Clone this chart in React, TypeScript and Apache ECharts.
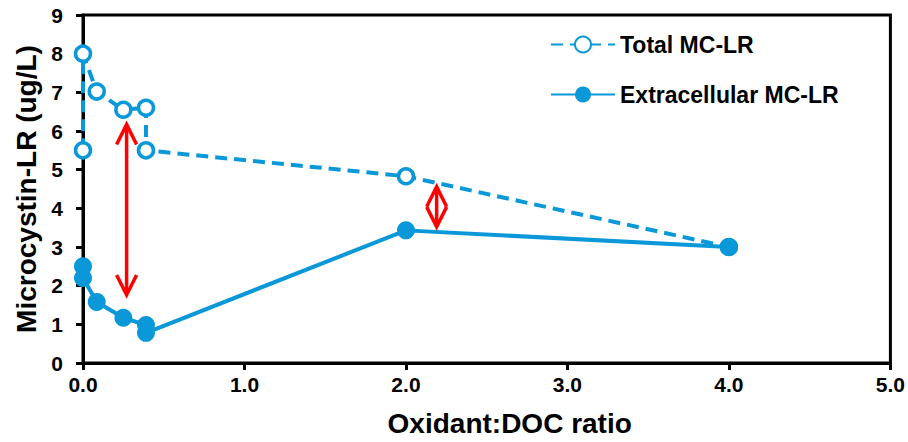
import React, { useEffect, useRef } from "react";
import * as echarts from "echarts";

const totalX = [0, 0, 0.085, 0.25, 0.39, 0.39, 2.0, 4.0];
const totalY = [5.5, 8.0, 7.02, 6.55, 6.6, 5.5, 4.83, 3.0];
const extraX = [0, 0, 0.085, 0.25, 0.39, 0.39, 2.0, 4.0];
const extraY = [2.5, 2.2, 1.58, 1.17, 0.98, 0.78, 3.43, 3.0];
// arrows: [x, yTop, yBottom]
const arrowX = [0.27, 2.19];
const arrowTop = [6.17, 4.56];
const arrowBottom = [1.76, 3.52];

const FONT = "'Liberation Sans', Arial, sans-serif";
const BLUE = "#0A98D9";

export default function App() {
  const ref = useRef<HTMLDivElement>(null);
  useEffect(() => {
    if (!ref.current) return;
    const chart = echarts.init(ref.current, undefined, { renderer: "svg" });
    const arrows = arrowX.map((x, i) => [x, arrowTop[i], arrowBottom[i]]);
    chart.setOption({
      animation: false,
      textStyle: { fontFamily: FONT },
      grid: {
        left: 83,
        right: 17,
        top: 15,
        bottom: 77,
        show: true,
        borderColor: "#000",
        borderWidth: 3,
      },
      legend: {
        orient: "vertical",
        left: 545,
        top: 28,
        itemGap: 27,
        itemWidth: 64,
        itemHeight: 20,
        textStyle: { fontFamily: FONT, fontWeight: "bold", fontSize: 23, color: "#000" },
        data: ["Total MC-LR", "Extracellular MC-LR"],
      },
      xAxis: {
        type: "value",
        min: 0,
        max: 5,
        interval: 1,
        name: "Oxidant:DOC ratio",
        nameLocation: "middle",
        nameGap: 46,
        nameTextStyle: {
          fontFamily: FONT,
          fontWeight: "bold",
          fontSize: 28,
          color: "#000",
          padding: [0, 0, 0, 46],
        },
        axisLine: { show: true, lineStyle: { color: "#000", width: 3 } },
        axisTick: { show: true, inside: false, length: 7, lineStyle: { color: "#000", width: 3 } },
        splitLine: { show: false },
        axisLabel: {
          margin: 11,
          fontFamily: FONT,
          fontWeight: "bold",
          fontSize: 21,
          color: "#000",
          formatter: (v: number) => v.toFixed(1),
        },
      },
      yAxis: {
        type: "value",
        min: 0,
        max: 9,
        interval: 1,
        name: "Microcystin-LR (ug/L)",
        nameLocation: "middle",
        nameGap: 36,
        nameTextStyle: { fontFamily: FONT, fontWeight: "bold", fontSize: 28, color: "#000" },
        axisLine: { show: true, lineStyle: { color: "#000", width: 3 } },
        axisTick: { show: true, inside: false, length: 7, lineStyle: { color: "#000", width: 3 } },
        splitLine: { show: false },
        axisLabel: {
          margin: 20,
          fontFamily: FONT,
          fontWeight: "bold",
          fontSize: 21,
          color: "#000",
        },
      },
      series: [
        {
          name: "Total MC-LR",
          type: "line",
          data: totalX.map((x, i) => [x, totalY[i]]),
          symbol: "circle",
          symbolSize: 15,
          lineStyle: { color: BLUE, width: 4, type: [12, 7] },
          itemStyle: { color: "#fff", borderColor: BLUE, borderWidth: 3.5 },
          z: 3,
        },
        {
          name: "Extracellular MC-LR",
          type: "line",
          data: extraX.map((x, i) => [x, extraY[i]]),
          symbol: "circle",
          symbolSize: 18,
          lineStyle: { color: BLUE, width: 4 },
          itemStyle: { color: BLUE, borderColor: BLUE, borderWidth: 0 },
          z: 3,
        },
        {
          name: "arrows",
          type: "custom",
          data: arrows,
          z: 4,
          renderItem: (params: any, api: any) => {
            const x = api.value(0);
            const top = api.coord([x, api.value(1)]);
            const bot = api.coord([x, api.value(2)]);
            const hw = 10;
            const hh = 20;
            const style = { stroke: "#FF0000", lineWidth: 3.5, fill: "none" };
            return {
              type: "group",
              children: [
                { type: "line", shape: { x1: top[0], y1: top[1] + 1, x2: bot[0], y2: bot[1] - 1 }, style },
                {
                  type: "polyline",
                  shape: { points: [[top[0] - hw, top[1] + hh], [top[0], top[1]], [top[0] + hw, top[1] + hh]] },
                  style,
                },
                {
                  type: "polyline",
                  shape: { points: [[bot[0] - hw, bot[1] - hh], [bot[0], bot[1]], [bot[0] + hw, bot[1] - hh]] },
                  style,
                },
              ],
            };
          },
        },
      ],
    });
    return () => chart.dispose();
  }, []);
  return <div ref={ref} style={{ width: 908, height: 442, position: "absolute", left: 0, top: 0 }} />;
}
